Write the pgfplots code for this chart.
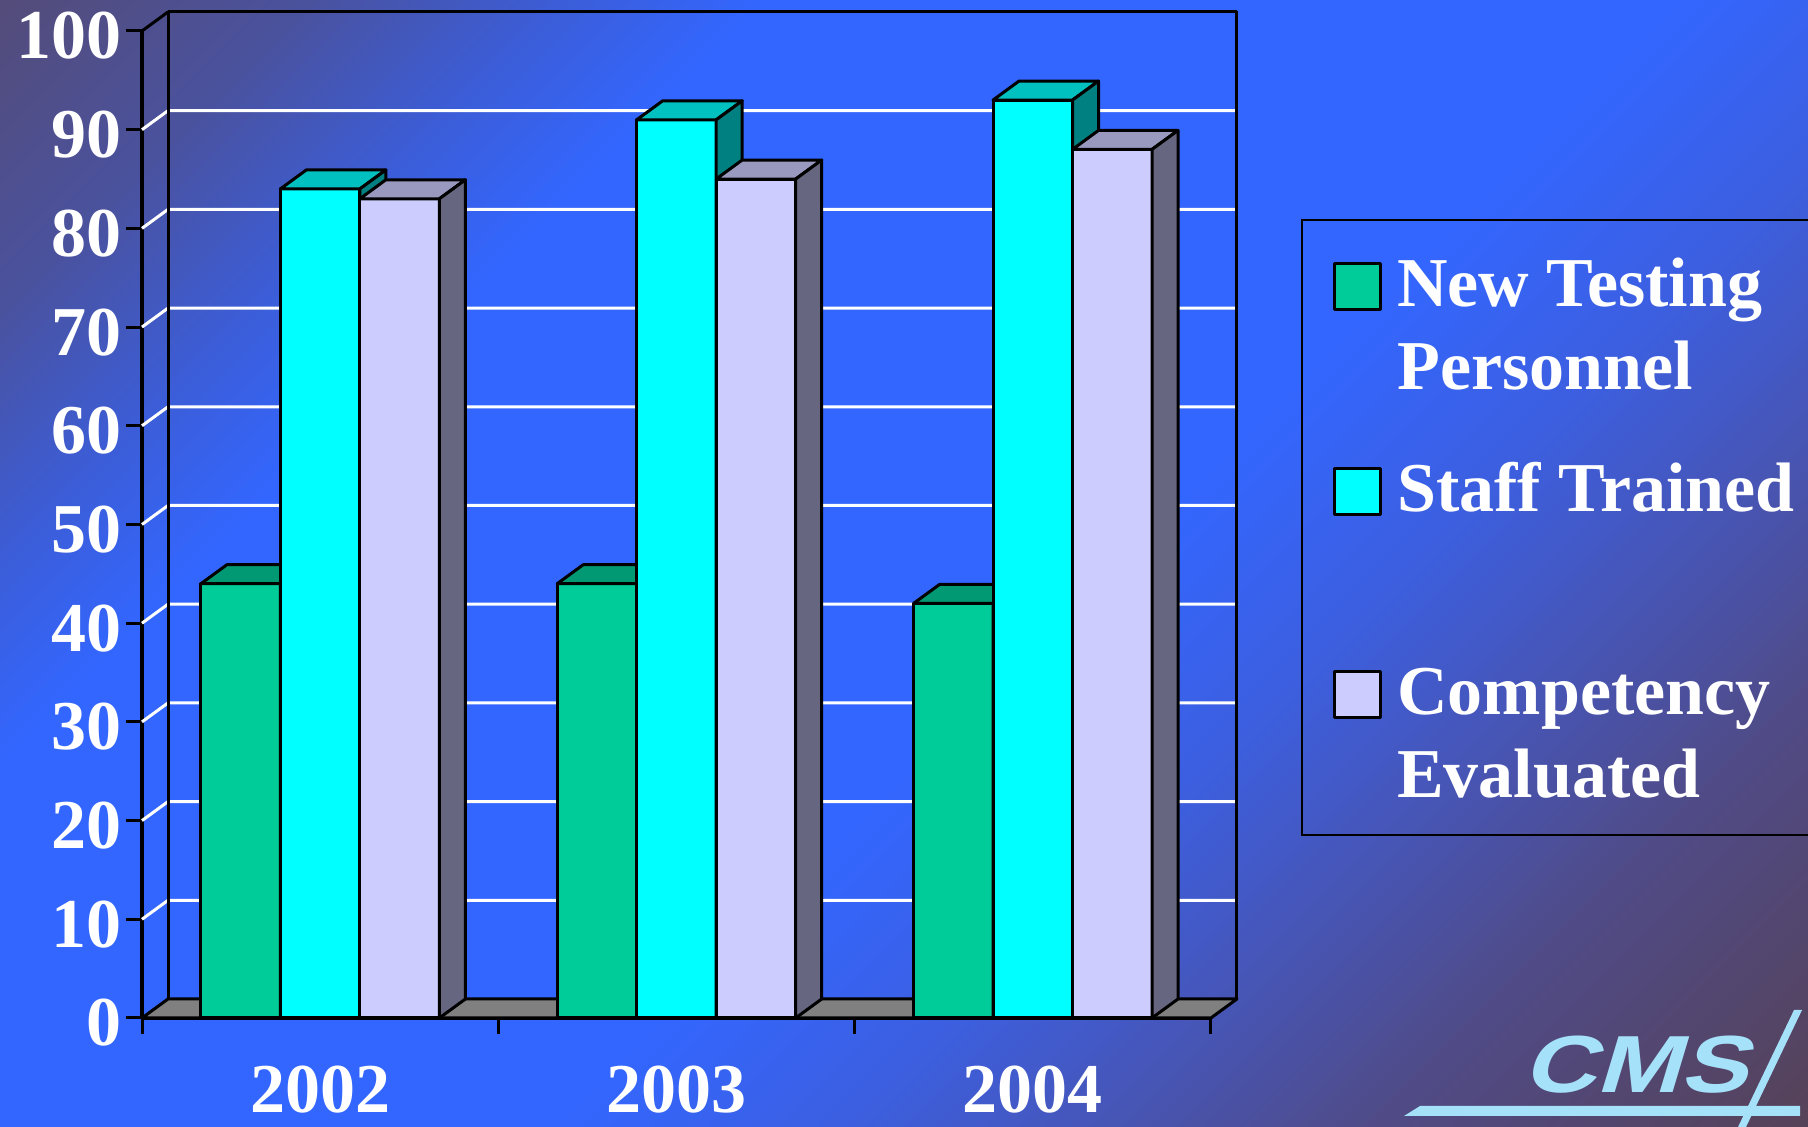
\documentclass[border=0pt]{standalone}
\usepackage{fontspec}
\setmainfont{Liberation Serif}
\newfontfamily\logofont[FakeSlant=0.3,FakeStretch=1.25]{Liberation Sans}
\usepackage{pgfplots}
\usepackage{pgfplotstable}
\pgfplotsset{compat=1.18}

\definecolor{greenF}{RGB}{0,204,153}
\definecolor{greenT}{RGB}{0,153,115}
\definecolor{greenS}{RGB}{0,102,77}
\definecolor{cyanF}{RGB}{0,255,255}
\definecolor{cyanT}{RGB}{0,192,192}
\definecolor{cyanS}{RGB}{0,128,128}
\definecolor{lavF}{RGB}{204,204,255}
\definecolor{lavT}{RGB}{153,153,192}
\definecolor{lavS}{RGB}{102,102,128}
\definecolor{floorG}{RGB}{128,128,128}
\definecolor{logoB}{RGB}{166,225,250}

\definecolor{bgA}{RGB}{84,76,122}
\definecolor{bgB}{RGB}{74,82,158}
\definecolor{bgC}{RGB}{60,93,215}
\definecolor{bgD}{RGB}{51,102,255}
\definecolor{bgE}{RGB}{60,95,225}
\definecolor{bgF}{RGB}{70,86,185}
\definecolor{bgG}{RGB}{80,75,135}
\definecolor{bgH}{RGB}{86,66,88}

\pgfdeclarehorizontalshading{bgshade}{100bp}{color(0bp)=(bgA); color(14.6bp)=(bgA); color(22bp)=(bgB); color(28bp)=(bgC); color(33bp)=(bgD); color(55bp)=(bgD); color(62bp)=(bgE); color(68bp)=(bgF); color(75bp)=(bgG); color(85.4bp)=(bgH); color(100bp)=(bgH)}

% 3D faces of the bars, drawn at the top centre of each front face
\pgfdeclareplotmark{topface}{%
  \pgfpathmoveto{\pgfqpoint{-19.875pt}{0pt}}%
  \pgfpathlineto{\pgfqpoint{19.875pt}{0pt}}%
  \pgfpathlineto{\pgfqpoint{32.875pt}{9.5pt}}%
  \pgfpathlineto{\pgfqpoint{-6.875pt}{9.5pt}}%
  \pgfpathclose
  \pgfusepathqfillstroke}
\pgfdeclareplotmark{sideface}{%
  \pgfmathsetlengthmacro\capH{\barval*4.935pt}%
  \pgfpathmoveto{\pgfqpoint{19.875pt}{0pt}}%
  \pgfpathlineto{\pgfqpoint{32.875pt}{9.5pt}}%
  \pgfpathlineto{\pgfpoint{32.875pt}{9.5pt-\capH}}%
  \pgfpathlineto{\pgfpoint{19.875pt}{-\capH}}%
  \pgfpathclose
  \pgfusepathqfillstroke}

\pgfplotsset{
  leg/.style={legend image code/.code={%
      \draw[fill=#1,draw=black,line width=1.5pt] (0pt,7.25pt) rectangle (23pt,30.25pt);
      \path (30.5pt,0pt);}},
  frontbar/.style={ybar, bar width=39.75pt, draw=black, line width=1.5pt, line join=round},
  capstyle/.style={forget plot, scatter, only marks,
      visualization depends on={rawy \as \barval},
      scatter/@pre marker code/.code={\scope},
      scatter/@post marker code/.code={\endscope},
      mark options={draw=black, fill=#1, line width=1.5pt, line join=round}},
}

\pgfplotstableread{
year green cyan lav
2002 44 84 83
2003 44 91 85
2004 42 93 88
}\datatable

\begin{document}
\begin{tikzpicture}
\useasboundingbox (0,0) rectangle (904pt,563.5pt);
\shade[shading=bgshade, shading angle=-45] (0,0) rectangle (904pt,563.5pt);
\clip (0,0) rectangle (904pt,563.5pt);

% CMS logo
\fill[logoB] (702pt,5.5pt) -- (710pt,10.5pt) -- (900pt,10.5pt) -- (900pt,5.5pt) -- cycle;
\fill[logoB] (897pt,58.5pt) -- (901pt,58.5pt) -- (873pt,0pt) -- (869pt,0pt) -- cycle;
\node[anchor=base west, inner sep=0pt, text=logoB, font=\logofont\bfseries\fontsize{40.5}{48}\selectfont] at (761pt,17pt) {CMS};

\begin{axis}[
  at={(71pt,54.5pt)}, anchor=south west,
  x=178.15pt, y=4.935pt,
  xmin=-0.5, xmax=2.5, ymin=0, ymax=100,
  axis x line*=bottom, axis y line*=left,
  axis line style={-, line width=1.75pt, black},
  xtick={-0.5,0.5,1.5,2.5}, xticklabels={},
  extra x ticks={0,1,2}, extra x tick labels={2002,2003,2004},
  extra x tick style={major tick length=0pt, xticklabel style={anchor=north, yshift=-24pt}},
  ytick={0,10,...,100},
  tick align=outside, major tick length=8pt,
  tick style={line width=1.5pt, black},
  minor tick num=0,
  tick label style={font=\fontsize{35}{42}\selectfont\bfseries, text=white},
  yticklabel style={anchor=east, inner sep=0pt, yshift=-2.5pt, xshift=-2pt},
  xticklabel style={inner sep=0pt},
  /pgf/number format/assume math mode=true,
  clip=false, clip marker paths=true,
  legend style={
    at={(1.0843,0.8095)}, anchor=north west,
    draw=black, line width=1.2pt, fill=none,
    inner xsep=15.5pt, inner ysep=19pt,
    row sep=36.4pt, column sep=0pt,
    cells={anchor=west},
    nodes={inner sep=0pt, text depth=0pt, align=left, text=white,
           font=\fontsize{35}{41.5}\selectfont\bfseries},
  },
  legend entries={{New Testing\\Personnel},{Staff Trained\\\phantom{P}},{Competency\\Evaluated}},
]
% grid lines on the side and back walls
\pgfplotsinvokeforeach{10,20,30,40,50,60,70,80,90}{
  \draw[white, line width=1.5pt] (axis cs:-0.5,#1) -- ([shift={(13pt,9.5pt)}]axis cs:-0.5,#1) -- ([shift={(13pt,9.5pt)}]axis cs:2.5,#1);
}
% back wall edges
\draw[black, line width=1.5pt, line join=round] ([shift={(13pt,9.5pt)}]axis cs:-0.5,0) -- ([shift={(13pt,9.5pt)}]axis cs:-0.5,100) -- ([shift={(13pt,9.5pt)}]axis cs:2.5,100) -- ([shift={(13pt,9.5pt)}]axis cs:2.5,0);
\draw[black, line width=1.5pt] (axis cs:-0.5,100) -- ([shift={(13pt,9.5pt)}]axis cs:-0.5,100);
% floor
\draw[fill=floorG, line width=1.5pt, line join=round] (axis cs:-0.5,0) -- (axis cs:2.5,0) -- ([shift={(13pt,9.5pt)}]axis cs:2.5,0) -- ([shift={(13pt,9.5pt)}]axis cs:-0.5,0) -- cycle;

% New Testing Personnel
\addplot[frontbar, bar shift=-39.75pt, fill=greenF, leg=greenF] table[x expr=\coordindex, y=green]{\datatable};
\addplot[capstyle=greenT, mark=topface] table[x expr=\coordindex-0.2231, y=green]{\datatable};
\addplot[capstyle=greenS, mark=sideface] table[x expr=\coordindex-0.2231, y=green]{\datatable};
% Staff Trained
\addplot[frontbar, bar shift=0pt, fill=cyanF, leg=cyanF] table[x expr=\coordindex, y=cyan]{\datatable};
\addplot[capstyle=cyanT, mark=topface] table[x expr=\coordindex, y=cyan]{\datatable};
\addplot[capstyle=cyanS, mark=sideface] table[x expr=\coordindex, y=cyan]{\datatable};
% Competency Evaluated
\addplot[frontbar, bar shift=39.75pt, fill=lavF, leg=lavF] table[x expr=\coordindex, y=lav]{\datatable};
\addplot[capstyle=lavT, mark=topface] table[x expr=\coordindex+0.2231, y=lav]{\datatable};
\addplot[capstyle=lavS, mark=sideface] table[x expr=\coordindex+0.2231, y=lav]{\datatable};
\end{axis}
\end{tikzpicture}
\end{document}
